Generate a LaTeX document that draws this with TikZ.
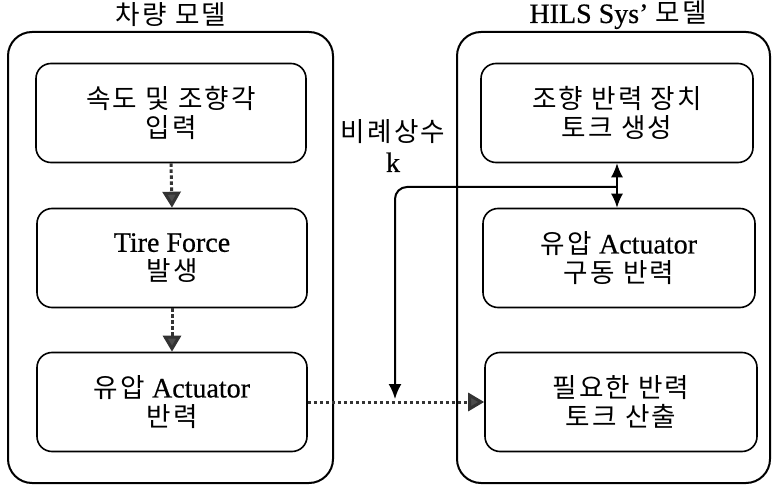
\documentclass[tikz,border=0pt]{standalone}
\usepackage{fontspec}
\setmainfont{Liberation Serif}[FakeBold=0.6]
\newfontfamily\ko{Noto Sans CJK KR}[Scale=0.95,LetterSpace=8]
\usetikzlibrary{arrows.meta}
\begin{document}
\begin{tikzpicture}[x=1pt,y=-1pt,
  container/.style={draw=black,line width=2pt,rounded corners=24pt,minimum height=451pt,inner sep=0pt},
  stepbox/.style={draw=black,line width=1.6pt,rounded corners=15pt,minimum width=270pt,minimum height=99pt,align=center,inner sep=0pt,font=\fontsize{28}{29}\selectfont},
  title/.style={font=\fontsize{28}{30}\selectfont,inner sep=0pt},
  flow/.style={draw=gray!40!black,line width=3pt,dash pattern=on 3.5pt off 2.5pt,-{Triangle[width=18pt,length=16pt,fill=gray!60!black]}},
  solidarr/.style={draw=black,line width=2pt,-{Latex[width=13pt,length=15pt]}},
]
\useasboundingbox (0,0) rectangle (774,486);
\node[container,minimum width=325pt] (lc) at (170.5,257.5) {};
\node[container,minimum width=313pt] (rc) at (613.5,257.5) {};
\node[title] (t1) at (171,15) {\ko 차량 모델};
\node[title] (t2) at (618,15) {HILS Sys’ {\ko 모델}};

\node[stepbox] (b1) at (171,113) {\ko 속도 및 조향각\\\ko 입력};
\node[stepbox] (b2) at (172,258) {Tire Force\\\ko 발생};
\node[stepbox] (b3) at (172,402) {{\ko 유압} Actuator\\\ko 반력};

\node[stepbox,minimum width=272pt] (ra) at (617,113) {\ko 조향 반력 장치\\\ko 토크 생성};
\node[stepbox,minimum width=272pt] (rb) at (619,258) {{\ko 유압} Actuator\\\ko 구동 반력};
\node[stepbox,minimum width=272pt] (rcx) at (621,402) {\ko 필요한 반력\\\ko 토크 산출};

\node[align=center,inner sep=0pt,font=\fontsize{28}{30}\selectfont] (kl) at (393,146) {\ko 비례상수\\k};

\draw[flow] (b1.south) -- (b2.north);
\draw[flow] (b2.south) -- (b3.north);
\draw[flow] (b3.east) -- (rcx.west);

\draw[black,line width=1.6pt,{Latex[width=12pt,length=14pt]}-{Latex[width=12pt,length=14pt]}] (ra.south -| 617,0) -- (rb.north -| 617,0);
\coordinate (j) at (617,187);
\coordinate (tip) at (395,399);
\draw[solidarr,rounded corners=12pt] (j) -| (tip);
\end{tikzpicture}
\end{document}
